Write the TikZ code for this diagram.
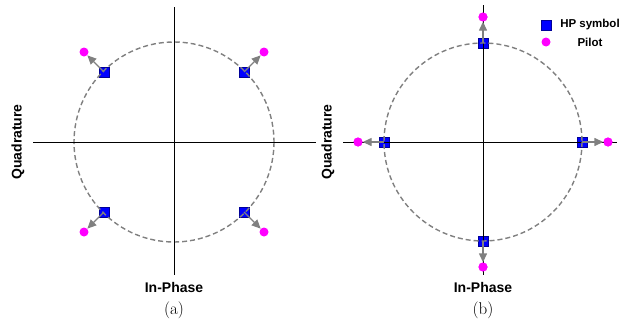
\documentclass[tikz,border=0pt]{standalone}
\usepackage{fontspec}
\newfontfamily\labelfont{Liberation Sans}
\usetikzlibrary{arrows.meta, positioning}
\definecolor{HPblue}{HTML}{0000FF}
\definecolor{PLmagenta}{HTML}{FF00FF}
\definecolor{RingGray}{HTML}{808080}
\tikzset{
  hpsym/.style={draw=HPblue!60!black, line width=0.4pt, fill=HPblue, minimum size=9.5pt, inner sep=0pt},
  pilot/.style={circle, fill=PLmagenta, minimum size=9pt, inner sep=0pt},
  axislabel/.style={font=\labelfont\bfseries\fontsize{14}{16}\selectfont},
  legendlabel/.style={font=\labelfont\bfseries\fontsize{11.5}{13}\selectfont},
  ring/.style={RingGray, dashed, dash pattern=on 5pt off 3pt, line width=1.4pt},
  shift arrow/.style={-{Triangle[length=9pt, width=8pt]}, RingGray, line width=1.4pt}
}
\begin{document}
\begin{tikzpicture}[x=1pt, y=-1pt]
      \useasboundingbox (0,0) rectangle (635,324);
      % Panel (a): rotated constellation
      \coordinate (ca) at (174,142);
      \foreach \i/\sx/\sy in {1/-1/-1, 2/1/-1, 3/-1/1, 4/1/1} {
         \node[hpsym] (ha\i) at (174+70*\sx,142+70*\sy) {};
         \node[pilot] (pa\i) at (174+90*\sx,142+90*\sy) {};
      }
      \draw[ring] (ca) circle (100);
      \foreach \i in {1,...,4}
         \draw[shift arrow] (ha\i.center) -- (pa\i);
      % Axes of panel (a)
      \draw[black, line width=0.9pt] (174,7) -- (174,275);
      \draw[black, line width=0.9pt] (33,142) -- (316,142);
      \node[axislabel, rotate=90] (qa) at (18,142) {Quadrature};
      \node[axislabel] (ia) at (174,287) {In-Phase};
      \node[font=\fontsize{17}{19}\selectfont] (capa) at (174,310) {(a)};
      % Panel (b): on-axis constellation
      \coordinate (cb) at (483,142);
      \foreach \i/\dx/\dy in {1/0/-1, 2/0/1, 3/-1/0, 4/1/0} {
         \node[hpsym] (hb\i) at (483+99*\dx,142+99*\dy) {};
         \node[pilot] (pb\i) at (483+125*\dx,142+125*\dy) {};
      }
      % Axes of panel (b)
      \draw[black, line width=0.9pt] (483,5) -- (483,275);
      \draw[black, line width=0.9pt] (343,142) -- (617,142);
      \draw[ring] (cb) circle (99);
      \foreach \i in {1,...,4}
         \draw[shift arrow] (hb\i.center) -- (pb\i);
      \foreach \i in {1,...,4}
         \node[pilot] at (pb\i) {};
      \node[axislabel, rotate=90] (qb) at (328,142) {Quadrature};
      \node[axislabel] (ib) at (483,287) {In-Phase};
      \node[font=\fontsize{17}{19}\selectfont] (capb) at (483,310) {(b)};
      % Legend
      \node[hpsym] (lgh) at (546,25) {};
      \node[legendlabel] (lght) at (590,25) {HP symbol};
      \node[pilot] (lgp) at (546,42) {};
      \node[legendlabel] (lgpt) at (590,42) {Pilot};
   \end{tikzpicture}
\end{document}
